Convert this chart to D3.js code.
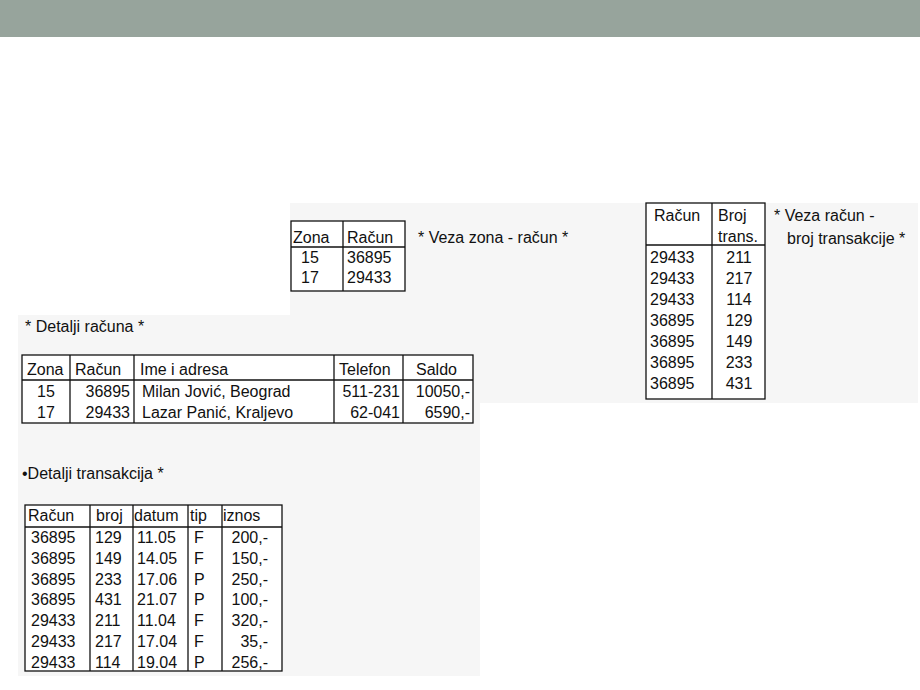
<!DOCTYPE html><html><head><meta charset="utf-8"><script src="https://cdn.jsdelivr.net/npm/d3@7"></script>
<style>body{margin:0;background:#fff}text{font-family:"Liberation Sans",Arial,sans-serif;fill:#111}</style></head><body><svg id="s" width="920" height="690"></svg><script>
const zonaHeader=["Zona","Račun"];
const zonaRows=[["15","36895"],["17","29433"]];
const vezaHeader=[["Račun",""],["Broj","trans."]];
const vezaRows=[["29433","211"],["29433","217"],["29433","114"],["36895","129"],["36895","149"],["36895","233"],["36895","431"]];
const racunHeader=["Zona","Račun","Ime i adresa","Telefon","Saldo"];
const racunRows=[["15","36895","Milan Jović, Beograd","511-231","10050,-"],["17","29433","Lazar Panić, Kraljevo","62-041","6590,-"]];
const transHeader=["Račun","broj","datum","tip","iznos"];
const transRows=[["36895","129","11.05","F","200,-"],["36895","149","14.05","F","150,-"],["36895","233","17.06","P","250,-"],["36895","431","21.07","P","100,-"],["29433","211","11.04","F","320,-"],["29433","217","17.04","F","35,-"],["29433","114","19.04","P","256,-"]];
const FS=16;
const svg=d3.select("#s");
svg.append("rect").attr("width",920).attr("height",37).attr("fill","#97a49c");
svg.append("rect").attr("x",290).attr("y",203).attr("width",628).attr("height",200).attr("fill","#f6f6f6");
svg.append("rect").attr("x",18).attr("y",315).attr("width",462).attr("height",361).attr("fill","#f6f6f6");
function table(o){
  const g=svg.append("g");
  g.append("rect").attr("x",o.x[0]).attr("y",o.y0).attr("width",o.x[o.x.length-1]-o.x[0]).attr("height",o.y1-o.y0).attr("fill","#fff").attr("stroke","#111").attr("stroke-width",1.3);
  g.append("line").attr("x1",o.x[0]).attr("x2",o.x[o.x.length-1]).attr("y1",o.hy).attr("y2",o.hy).attr("stroke","#111").attr("stroke-width",1.3);
  o.x.slice(1,-1).forEach(x=>g.append("line").attr("x1",x).attr("x2",x).attr("y1",o.y0).attr("y2",o.y1).attr("stroke","#111").attr("stroke-width",1.3));
  const y=d3.scaleLinear().domain([0,1]).range([o.r0,o.r0+o.rh]);
  o.header.forEach((h,i)=>{(Array.isArray(h)?h:[h]).forEach((t,k)=>g.append("text").attr("x",o.hx[i]).attr("y",o.hy0+k*21).attr("font-size",FS).text(t));});
  o.rows.forEach((r,j)=>r.forEach((t,i)=>{
    g.append("text").attr("x",o.cx[i]).attr("y",y(j)).attr("text-anchor",o.al[i]).attr("font-size",FS).text(t);}));
}
table({x:[291,343,405],y0:221,y1:291,hy:247,header:zonaHeader,hx:[293,347],hy0:243,rows:zonaRows,r0:263,rh:20,cx:[301,347],al:["start","start"]});
table({x:[646,712,765],y0:203,y1:399,hy:245,header:vezaHeader,hx:[654,718],hy0:221,rows:vezaRows,r0:263,rh:21,cx:[650,739],al:["start","middle"]});
table({x:[22,70,134,334,403,473],y0:355,y1:423,hy:380,header:racunHeader,hx:[27,75,140,339,416],hy0:375,rows:racunRows,r0:397,rh:20.5,cx:[46,130,142,400,470],al:["middle","end","start","end","end"]});
table({x:[25,90,133,188,222,282],y0:505,y1:671,hy:527,header:transHeader,hx:[28,96,134,190,223],hy0:521,rows:transRows,r0:543,rh:20.8,cx:[31,95,137,194,268],al:["start","start","start","start","end"]});
[["* Veza zona - račun *",418,243],["* Veza račun -",774,221],["broj transakcije *",787,244],["* Detalji računa *",25,332],["•Detalji transakcija *",22,479]].forEach(d=>svg.append("text").attr("x",d[1]).attr("y",d[2]).attr("font-size",FS).text(d[0]));
</script></body></html>
